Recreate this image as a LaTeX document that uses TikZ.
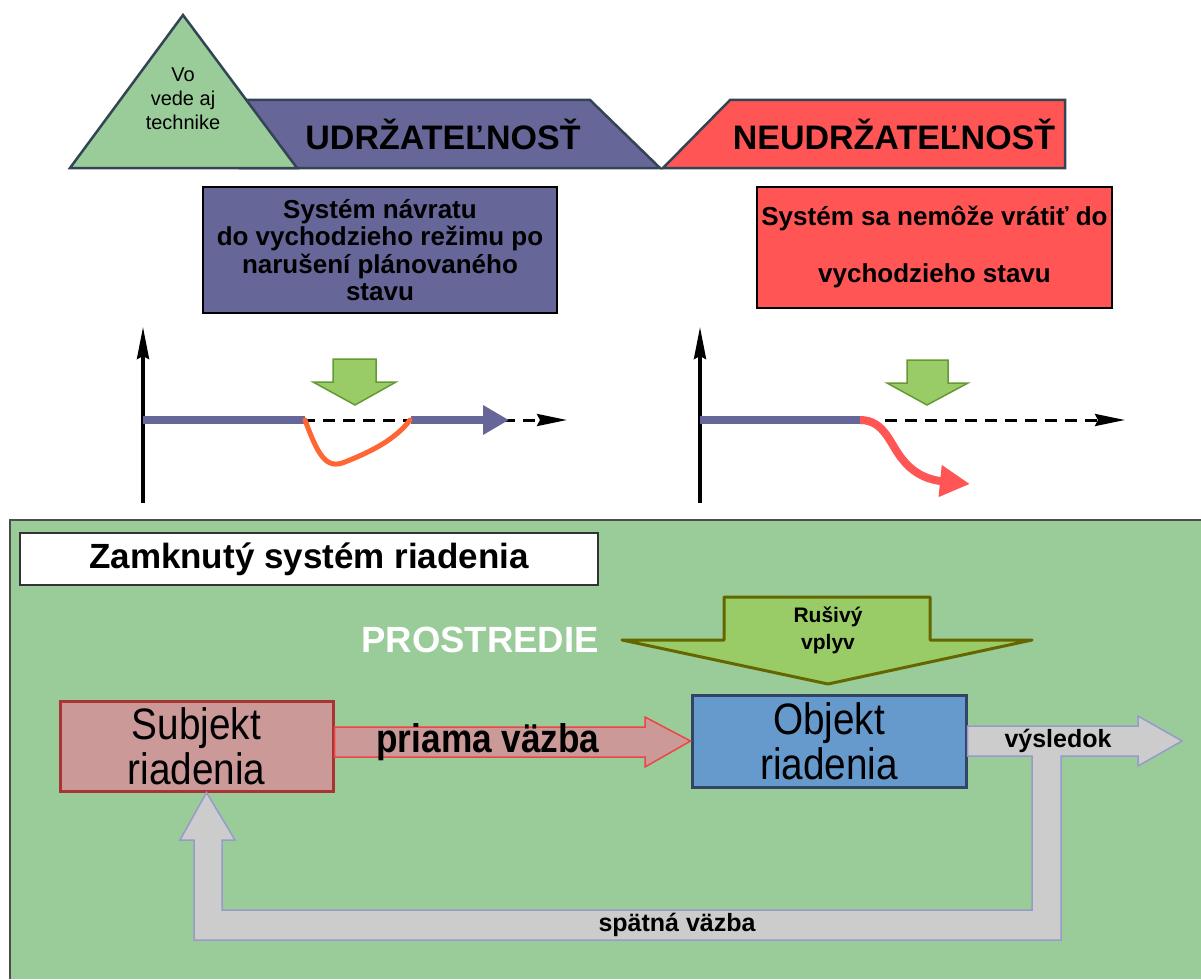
\documentclass[tikz,border=0pt]{standalone}
\usepackage{fontspec}
\setmainfont{Liberation Sans}
\newfontfamily\narrowfont[FakeStretch=0.88]{Liberation Sans}
\usetikzlibrary{arrows.meta,calc,positioning}
\definecolor{zelena}{HTML}{99CC99}
\definecolor{fialova}{HTML}{666699}
\definecolor{cervena}{HTML}{FF5555}
\definecolor{obrysova}{HTML}{334455}
\definecolor{oranzova}{HTML}{FF6633}
\definecolor{trava}{HTML}{99CC66}
\definecolor{trava2}{HTML}{669933}
\definecolor{olivova}{HTML}{666600}
\definecolor{modra}{HTML}{6699CC}
\definecolor{modra2}{HTML}{334466}
\definecolor{ruzova}{HTML}{CC9999}
\definecolor{ruzova2}{HTML}{AA3333}
\definecolor{ruzova3}{HTML}{EE4444}
\definecolor{siva}{HTML}{CCCCCC}
\definecolor{siva2}{HTML}{9999CC}

\begin{document}
\begin{tikzpicture}[x=1pt,y=-1pt,
  hore/.style={line width=2.5pt,draw=obrysova,line join=miter},
  box/.style={draw=black,line width=2pt,align=center,inner sep=0pt},
  os/.style={line width=3.5pt,-{Stealth[length=32pt,width=12pt,inset=3pt]}},
  ciara/.style={line width=8pt,draw=fialova},
  plan/.style={line width=3pt,dash pattern=on 12pt off 8pt,-{Stealth[length=30pt,width=12pt,inset=3pt]}},
  sipka/.style={fill=trava,draw=trava2,line width=1.5pt},
  blok/.style={line width=3pt,align=center,inner sep=0pt,font=\narrowfont\fontsize{44}{45}\selectfont},
  sivy/.style={fill=siva,draw=siva2,line width=1.5pt}]
\useasboundingbox (0,0) rectangle (1201,979);

\filldraw[hore,fill=fialova] (240,100) -- (590,100) -- (660,168) -- (240,168) -- cycle;
\filldraw[hore,fill=cervena] (730,100) -- (1065,100) -- (1065,168) -- (663,168) -- cycle;
\filldraw[hore,fill=zelena] (183,15) -- (297,168) -- (70,168) -- cycle;
\node[align=center,font=\fontsize{20}{24}\selectfont] (veda) at (183,99) {Vo\\vede aj\\technike};
\node[font=\bfseries\fontsize{34}{40}\selectfont] (udrz) at (443,134) {UDRŽATEĽNOSŤ};
\node[font=\bfseries\fontsize{34}{40}\selectfont] (neudrz) at (894,134) {NEUDRŽATEĽNOSŤ};

\node[box,fill=fialova,minimum width=354,minimum height=126,font=\bfseries\fontsize{26}{27.5}\selectfont] (navrat) at (380,250)
  {Systém návratu\\do vychodzieho režimu po\\narušení plánovaného\\stavu};
\node[box,fill=cervena,minimum width=355,minimum height=121,font=\bfseries\fontsize{26}{57}\selectfont] (nemoze) at (934.5,247)
  {Systém sa nemôže vrátiť do\\vychodzieho stavu};

\draw[os] (143,503) -- (143,327);
\draw[plan] (303,420) -- (567,420);
\draw[ciara] (143,420) -- (305,420);
\draw[ciara,-{Triangle[length=26pt,width=28pt]}] (411,420) -- (509,420);
\draw[line width=5pt,oranzova,line cap=round] (305,420) .. controls (318,455) and (326,470) .. (345,462) .. controls (370,452) and (395,440) .. (410,420);
\filldraw[sipka] (333,359) -- (376,359) -- (376,382) -- (396,382) -- (355,405) -- (313,382) -- (333,382) -- cycle;

\draw[os] (700,503) -- (700,327);
\draw[plan] (885,420) -- (1125,420);
\draw[ciara] (700,420) -- (862,420);
\draw[line width=8pt,cervena,-{Triangle[length=30pt,width=30pt]}] (860,420) .. controls (885,420) and (890,445) .. (903,460) .. controls (915,475) and (930,480) .. (970,484);
\filldraw[sipka] (907,360) -- (948,360) -- (948,383) -- (968,383) -- (927,405) -- (887,383) -- (907,383) -- cycle;

\fill[zelena] (10,520) rectangle (1201,979);
\draw[line width=1.5pt,black!70] (10,979) -- (10,520) -- (1201,520);
\node[draw=black!80,line width=1.5pt,fill=white,minimum width=578,minimum height=52,font=\bfseries\fontsize{35}{40}\selectfont] (zsr) at (309,559) {Zamknutý systém riadenia};
\node[white,font=\bfseries\fontsize{36.5}{40}\selectfont] (prostredie) at (480,640) {PROSTREDIE};

\filldraw[fill=trava,draw=olivova,line width=3pt,line join=round] (724,597) -- (930,597) -- (930,640) -- (1032,640) -- (828,684) -- (622,640) -- (724,640) -- cycle;
\node[align=center,font=\bfseries\fontsize{21}{27}\selectfont] (rusivy) at (828,630) {Rušivý\\vplyv};

\node[blok,draw=modra2,fill=modra,minimum width=274,minimum height=92] (obj) at (829,741) {Objekt\\riadenia};
\node[blok,draw=ruzova2,fill=ruzova,minimum width=273,minimum height=90] (subj) at (196.5,746) {Subjekt\\riadenia};

\filldraw[fill=ruzova,draw=ruzova3,line width=1.5pt] (subj.east |- 0,727) -- (645,727) -- (645,717) -- (obj.west) -- (645,767) -- (645,757) -- (subj.east |- 0,757) -- cycle;
\node[font=\narrowfont\bfseries\fontsize{40}{44}\selectfont] (priama) at (488,742) {priama väzba};

\filldraw[sivy] (obj.east |- 0,726) -- (1138,726) -- (1138,716) -- (1182,741) -- (1138,766) -- (1138,756) -- (1061,756) -- (1061,940) -- (194,940) -- (194,840) -- (180,840) -- ($(subj.south)+(10,0)$) -- (235,840) -- (222,840) -- (222,910) -- (1032,910) -- (1032,756) -- (obj.east |- 0,756) -- cycle;
\node[font=\bfseries\fontsize{25}{28}\selectfont] (vysledok) at (1058,741) {výsledok};
\node[font=\bfseries\fontsize{25}{28}\selectfont] (spatna) at (677,925) {spätná väzba};
\end{tikzpicture}
\end{document}
